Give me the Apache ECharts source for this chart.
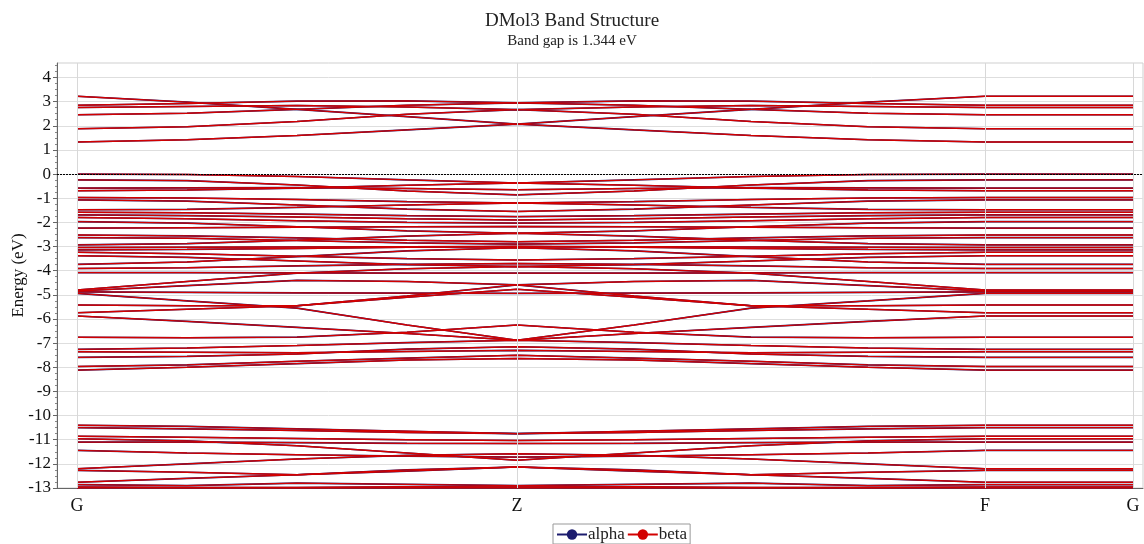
<!DOCTYPE html>
<html>
<head>
<meta charset="utf-8">
<script src="https://cdn.jsdelivr.net/npm/echarts@6/dist/echarts.min.js"></script>
<style>
html,body{margin:0;padding:0;background:#fff;}
#chart{width:1144px;height:544px;}
</style>
</head>
<body>
<div id="chart"></div>
<script>
// k-point labels and path distances (G -> Z -> F -> G)
const kLabels = ['G', 'Z', 'F', 'G'];
const kDist = [0, 440, 908, 1056];
// sample positions along G->Z (fraction of segment); Z->F is its mirror, F->G is flat
const sampleFrac = [0, 0.25, 0.5, 0.75, 1];
const yTicks = [-13, -12, -11, -10, -9, -8, -7, -6, -5, -4, -3, -2, -1, 0, 1, 2, 3, 4];

// energies (eV) of each band at G, 1/4, 1/2, 3/4, Z
const conductionBands = [
  [1.33, 1.42, 1.60, 1.83, 2.07],
  [1.88, 1.96, 2.18, 2.48, 2.67],
  [2.46, 2.52, 2.68, 2.85, 2.95],
  [2.76, 2.80, 2.84, 2.78, 2.67],
  [2.85, 2.92, 3.02, 3.03, 2.95],
  [3.22, 2.98, 2.68, 2.38, 2.07]
];
const valenceUpper = [
  [0.00, -0.02, -0.10, -0.24, -0.37],
  [-0.24, -0.27, -0.45, -0.70, -0.86],
  [-0.58, -0.57, -0.56, -0.60, -0.65],
  [-0.69, -0.66, -0.58, -0.46, -0.37],
  [-0.97, -0.99, -1.05, -1.14, -1.20],
  [-1.07, -1.12, -1.28, -1.45, -1.55],
  [-1.48, -1.46, -1.38, -1.28, -1.20],
  [-1.58, -1.60, -1.66, -1.72, -1.76],
  [-1.69, -1.72, -1.78, -1.85, -1.90],
  [-1.80, -1.85, -1.93, -2.00, -2.03],
  [-1.97, -2.03, -2.18, -2.35, -2.45],
  [-2.24, -2.22, -2.20, -2.18, -2.17],
  [-2.52, -2.56, -2.64, -2.74, -2.80],
  [-2.63, -2.66, -2.75, -2.85, -2.90],
  [-2.93, -2.88, -2.74, -2.57, -2.45],
  [-3.04, -3.03, -3.02, -3.01, -3.00],
  [-3.14, -3.12, -3.08, -3.03, -3.00],
  [-3.24, -3.30, -3.40, -3.50, -3.56],
  [-3.38, -3.45, -3.60, -3.75, -3.83],
  [-3.74, -3.64, -3.42, -3.18, -3.05],
  [-3.91, -3.88, -3.80, -3.74, -3.70],
  [-4.08, -4.08, -4.09, -4.10, -4.10]
];
const valenceMiddle = [
  [-4.80, -4.45, -4.10, -3.92, -3.83],
  [-4.84, -4.62, -4.40, -4.45, -4.59],
  [-4.88, -4.90, -4.92, -4.93, -4.94],
  [-4.94, -5.25, -5.55, -6.25, -6.88],
  [-5.42, -5.45, -5.45, -5.05, -4.59],
  [-5.74, -5.60, -5.45, -5.10, -4.77],
  [-5.88, -6.10, -6.35, -6.60, -6.88],
  [-6.76, -6.78, -6.75, -6.55, -6.25],
  [-7.26, -7.20, -7.10, -6.98, -6.88],
  [-7.36, -7.38, -7.40, -7.35, -7.30],
  [-7.59, -7.55, -7.45, -7.25, -7.15],
  [-7.97, -7.90, -7.75, -7.62, -7.50],
  [-8.12, -8.00, -7.85, -7.70, -7.64]
];
const valenceLower = [
  [-10.40, -10.45, -10.55, -10.65, -10.75],
  [-10.50, -10.55, -10.62, -10.70, -10.75],
  [-10.86, -10.90, -10.95, -11.00, -11.03],
  [-10.96, -11.05, -11.25, -11.55, -11.85],
  [-11.10, -11.10, -11.12, -11.15, -11.16],
  [-11.44, -11.55, -11.62, -11.68, -11.72],
  [-12.20, -12.00, -11.80, -11.65, -11.58],
  [-12.27, -12.35, -12.45, -12.30, -12.13],
  [-12.76, -12.60, -12.45, -12.25, -12.13],
  [-12.86, -12.90, -12.80, -12.85, -12.90],
  [-12.96, -12.98, -12.98, -12.95, -12.96],
  [-13.00, -13.00, -13.00, -13.00, -13.00]
];

const allBands = [].concat(conductionBands, valenceUpper, valenceMiddle, valenceLower);

function bandPath(b) {
  const pts = [];
  const gz = kDist[1] - kDist[0], zf = kDist[2] - kDist[1];
  for (let i = 0; i < sampleFrac.length; i++) pts.push([kDist[0] + sampleFrac[i] * gz, b[i]]);
  for (let i = 1; i < sampleFrac.length; i++) pts.push([kDist[1] + sampleFrac[i] * zf, b[b.length - 1 - i]]);
  pts.push([kDist[3], b[0]]);
  return pts;
}

const ALPHA = '#1c1c6e', BETA = '#d20000';
const series = [];
allBands.forEach(function (b) {
  series.push({
    name: 'alpha', type: 'line', data: bandPath(b), symbol: 'circle', symbolSize: 8, showSymbol: false,
    lineStyle: { color: ALPHA, width: 1.6 }, itemStyle: { color: ALPHA }, silent: true, z: 2, animation: false
  });
});
allBands.forEach(function (b) {
  series.push({
    name: 'beta', type: 'line', data: bandPath(b), symbol: 'circle', symbolSize: 8, showSymbol: false,
    lineStyle: { color: BETA, width: 1.4 }, itemStyle: { color: BETA }, silent: true, z: 3, animation: false
  });
});
// reference lines: k-point verticals and Fermi level
series.push({
  type: 'line', data: [], silent: true, animation: false, z: 1,
  markLine: {
    silent: true, symbol: 'none', label: { show: false }, animation: false,
    data: kDist.map(function (d) { return { xAxis: d, lineStyle: { color: '#d8d8d8', width: 1, type: 'solid' } }; })
  }
});
series.push({
  type: 'line', data: [], silent: true, animation: false, z: 5,
  markLine: {
    silent: true, symbol: 'none', label: { show: false }, animation: false,
    data: [{ yAxis: 0, lineStyle: { color: '#000', width: 1, type: [2, 1] } }]
  }
});

const chart = echarts.init(document.getElementById('chart'), null, { renderer: 'canvas' });
chart.setOption({
  animation: false,
  backgroundColor: '#fff',
  title: {
    text: 'DMol3 Band Structure', subtext: 'Band gap is 1.344 eV', left: 'center', top: 7, itemGap: 3,
    textStyle: { fontFamily: 'Liberation Serif', fontSize: 19, fontWeight: 'normal', color: '#222' },
    subtextStyle: { fontFamily: 'Liberation Serif', fontSize: 15, color: '#222' }
  },
  legend: {
    bottom: 0, left: 553, data: ['alpha', 'beta'], itemWidth: 30, itemHeight: 13, itemGap: 2,
    borderColor: '#999', borderWidth: 1, padding: [2, 3, 1, 3],
    textStyle: { fontFamily: 'Liberation Serif', fontSize: 17, color: '#222', padding: [0, 0, 0, -4] }
  },
  grid: { left: 57, right: 1, top: 63, bottom: 56, show: true, borderColor: '#cfcfcf', borderWidth: 1, outerBoundsMode: 'none', containLabel: false },
  xAxis: {
    type: 'value', min: -20, max: 1066,
    axisLine: { show: true, onZero: false, lineStyle: { color: '#666' } },
    axisTick: { show: false },
    splitLine: { show: false },
    axisLabel: {
      customValues: kDist, margin: 9, fontFamily: 'Liberation Serif', fontSize: 18, color: '#111',
      formatter: function (v) { const i = kDist.indexOf(v); return i >= 0 ? kLabels[i] : ''; }
    }
  },
  yAxis: {
    type: 'value', min: -13, max: 4.6, interval: 1,
    name: 'Energy (eV)', nameLocation: 'middle', nameGap: 30, nameMoveOverlap: false,
    nameTextStyle: { fontFamily: 'Liberation Serif', fontSize: 17, color: '#111' },
    axisLine: { show: true, onZero: false, lineStyle: { color: '#666' } },
    axisTick: { show: true, length: 4, lineStyle: { color: '#666' }, customValues: yTicks },
    minorTick: { show: true, splitNumber: 4, length: 2, lineStyle: { color: '#888' } },
    splitLine: { show: true, lineStyle: { color: '#dedede' } },
    axisLabel: { customValues: yTicks, margin: 6, fontFamily: 'Liberation Serif', fontSize: 17, color: '#111' }
  },
  series: series
});
</script>
</body>
</html>
